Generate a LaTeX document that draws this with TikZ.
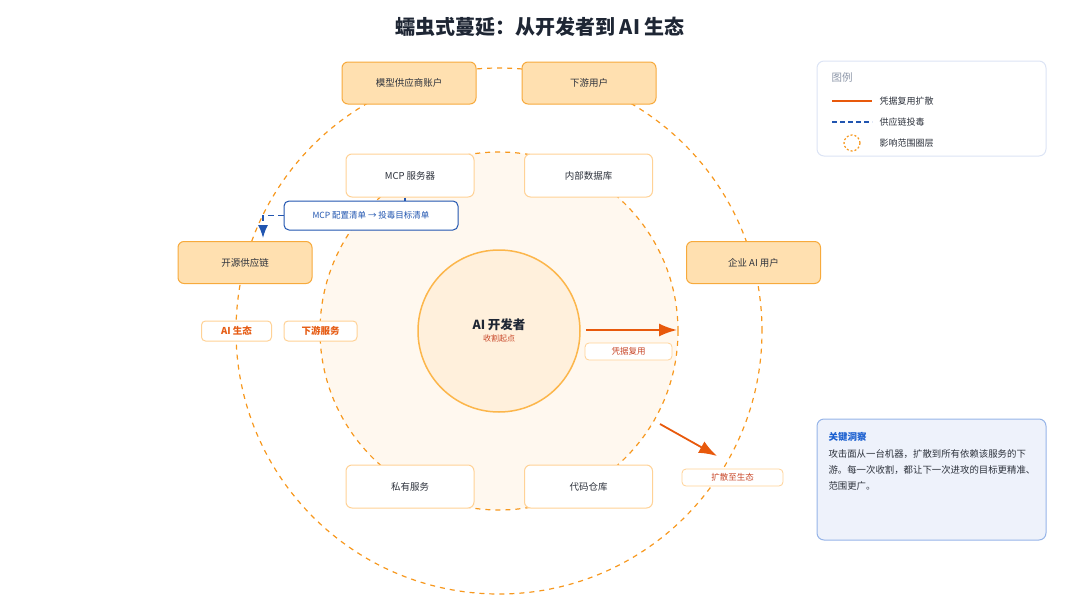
\documentclass[tikz,border=0pt]{standalone}
\usepackage{fontspec}
\setmainfont{Noto Sans CJK SC}
\usetikzlibrary{arrows.meta,positioning}

\begin{document}
\begin{tikzpicture}[x=1pt, y=-1pt, >={Latex[length=18pt,width=13pt]},
	outerbox/.style={draw=ringline, fill=orangefill, line width=1pt, rounded corners=6pt,
		minimum width=134pt, minimum height=42pt, text=textdark, font=\fontsize{9.5}{11}\selectfont},
	innerbox/.style={draw=palebord, fill=white, line width=1pt, rounded corners=6pt,
		minimum width=128pt, minimum height=43pt, text=textdark, font=\fontsize{9.5}{11}\selectfont},
	ringtag/.style={draw=palebord, fill=white, line width=1pt, rounded corners=4pt,
		minimum width=70pt, minimum height=20pt, inner sep=0pt, text=redtext,
		font=\bfseries\fontsize{9.5}{11}\selectfont},
	arrowtag/.style={draw=palebord, fill=white, line width=0.8pt, rounded corners=4pt,
		minimum height=17pt, inner sep=0pt, text=credtext, font=\fontsize{8.5}{10}\selectfont},
	ringcircle/.style={draw=ringdash, line width=1.2pt, dash pattern=on 5pt off 5pt}]
	\definecolor{orangefill}{RGB}{255,224,176}
	\definecolor{ringline}{RGB}{247,170,60}
	\definecolor{ringdash}{RGB}{247,152,30}
	\definecolor{palebord}{RGB}{255,210,150}
	\definecolor{midfill}{RGB}{255,248,239}
	\definecolor{devfill}{RGB}{255,240,220}
	\definecolor{devline}{RGB}{252,182,75}
	\definecolor{redline}{RGB}{232,89,12}
	\definecolor{redtext}{RGB}{230,92,20}
	\definecolor{credtext}{RGB}{200,70,40}
	\definecolor{bluel}{RGB}{33,85,176}
	\definecolor{textdark}{RGB}{45,50,60}
	\definecolor{titledark}{RGB}{30,38,52}
	\definecolor{legendbord}{RGB}{220,228,245}
	\definecolor{insightfill}{RGB}{238,242,251}
	\definecolor{insightbord}{RGB}{150,180,232}
	\definecolor{insighttitle}{RGB}{26,95,208}
	\definecolor{greytext}{RGB}{140,150,168}

	\useasboundingbox (0,0) rectangle (1080,608);

	% title
	\node[font=\bfseries\fontsize{20}{24}\selectfont, text=titledark] (title) at (540,27) {蠕虫式蔓延：从开发者到 AI 生态};

	% influence rings
	\draw[ringcircle] (499,331) circle[radius=263pt];
	\draw[ringcircle, fill=midfill] (499,331) circle[radius=179pt];
	\node[circle, draw=devline, fill=devfill, line width=1.5pt, minimum size=162pt, inner sep=0pt] (dev) at (499,331) {};
	\node[font=\bfseries\fontsize{12.5}{14}\selectfont, text=titledark] (devname) at (499,325) {AI 开发者};
	\node[font=\fontsize{8}{9}\selectfont, text=credtext, below=-3pt of devname] (devsub) {收割起点};

	% outer ring nodes
	\node[outerbox] (vendor) at (409,83) {模型供应商账户};
	\node[outerbox] (users) at (589,83) {下游用户};
	\node[outerbox] (supply) at (245,262.5) {开源供应链};
	\node[outerbox] (ent) at (753.5,262.5) {企业 AI 用户};

	% middle ring nodes
	\node[innerbox] (mcp) at (410,175.5) {MCP 服务器};
	\node[innerbox] (db) at (588.5,175.5) {内部数据库};
	\node[innerbox] (priv) at (410,486.5) {私有服务};
	\node[innerbox] (repo) at (588.5,486.5) {代码仓库};

	% supply chain poisoning
	\node[draw=bluel, fill=white, line width=1pt, rounded corners=5pt, minimum width=174pt,
		minimum height=29pt, text=bluel, font=\fontsize{8.5}{10}\selectfont] (cfg) at (371,215.5) {MCP 配置清单 → 投毒目标清单};
	\draw[bluel, line width=1.5pt] ([xshift=-5pt]mcp.south) -- ([xshift=-5pt]mcp.south |- cfg.north);
	\coordinate (poisontip) at (263,238);
	\draw[bluel, line width=1.5pt, dash pattern=on 6pt off 4pt, -{Latex[length=13pt,width=10pt]}] (cfg.west) -| (poisontip);

	% ring tags
	\node[ringtag] (ecotag) at (236.5,331) {AI 生态};
	\node[ringtag, minimum width=73pt] (downtag) at (320.5,331) {下游服务};

	% credential reuse spread
	\coordinate (credend) at (677,330);
	\draw[redline, line width=1.8pt, ->] (586,330) coordinate (credstart) -- (credend);
	\node[arrowtag, minimum width=87pt] (credtag) at (628.5,351.5) {凭据复用};
	\coordinate (spreadstart) at (660,424);
	\coordinate (spreadend) at (717,456);
	\draw[redline, line width=1.8pt, ->] (spreadstart) -- (spreadend);
	\node[arrowtag, minimum width=101pt] (spreadtag) at (732.5,477.5) {扩散至生态};

	% legend
	\node[draw=legendbord, fill=white, line width=1pt, rounded corners=7pt, minimum width=229pt,
		minimum height=95pt] (legend) at (931.5,108.5) {};
	\node[anchor=west, text=greytext, font=\fontsize{10.5}{12}\selectfont] (legtitle) at (828,78) {图例};
	\coordinate (lega) at (832,101);
	\coordinate (legb) at (872,101);
	\draw[redline, line width=1.5pt] (lega) -- (legb);
	\node[anchor=west, text=textdark, font=\fontsize{9}{10}\selectfont] (legcred) at (876,101) {凭据复用扩散};
	\coordinate (legc) at (832,122);
	\coordinate (legd) at (872,122);
	\draw[bluel, line width=1.5pt, dash pattern=on 5pt off 3pt] (legc) -- (legd);
	\node[anchor=west, text=textdark, font=\fontsize{9}{10}\selectfont] (legpoison) at (876,122) {供应链投毒};
	\node[circle, draw=ringdash, line width=1.2pt, dash pattern=on 2pt off 2pt, minimum size=16pt, inner sep=0pt] (legring) at (852,143) {};
	\node[anchor=west, text=textdark, font=\fontsize{9}{10}\selectfont] (legscope) at (876,143) {影响范围圈层};

	% key insight
	\node[draw=insightbord, fill=insightfill, line width=1pt, rounded corners=7pt, minimum width=229pt,
		minimum height=121pt] (insight) at (931.5,479.5) {};
	\node[anchor=west, text=insighttitle, font=\bfseries\fontsize{9.5}{11}\selectfont] (insighthead) at (825,437) {关键洞察};
	\node[anchor=north west, align=left, text=textdark, font=\fontsize{9.4}{16}\selectfont] (insightbody) at (825,446)
		{攻击面从一台机器，扩散到所有依赖该服务的下\\游。每一次收割，都让下一次进攻的目标更精准、\\范围更广。};
\end{tikzpicture}
\end{document}
